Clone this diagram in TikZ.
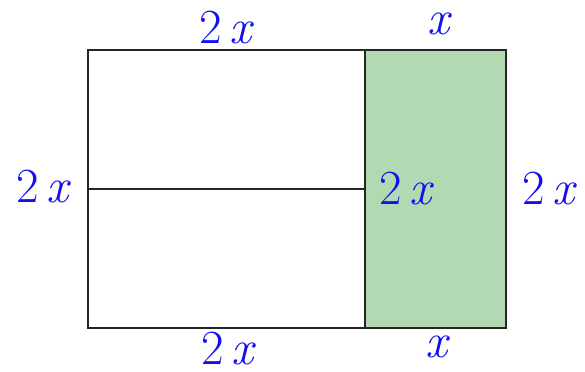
\documentclass[tikz,border=0pt]{standalone}
\usepackage{fontspec}
\definecolor{areagreen}{HTML}{B3D9B3}
\definecolor{penblue}{HTML}{1010F0}
\usetikzlibrary{calc, positioning}
\begin{document}
\begin{tikzpicture}[
  x=0.0265cm, y=-0.0265cm,
  edge/.style={draw=black!85, line width=0.9pt},
  dim/.style={font=\fontsize{37}{37}\selectfont, text=penblue, inner sep=0pt},
]
\useasboundingbox (0,0) rectangle (585,372);
% corners of the big rectangle
\coordinate (tl) at (88,50);
\coordinate (tm) at (365,50);
\coordinate (tr) at (506,50);
\coordinate (bl) at (88,328);
\coordinate (bm) at (365,328);
\coordinate (br) at (506,328);
\coordinate (ml) at (88,189);
\coordinate (mm) at (365,189);

\fill[areagreen] (tm) rectangle (br);
\draw[edge] (tl) rectangle (br);
\draw[edge] (tm) -- (bm);
\draw[edge] (ml) -- (mm);

\node[dim] (top2x) at (227,28) {2\,\textit{x}};
\node[dim] (topx) at (440,24) {\textit{x}};
\node[dim] (left2x) at (44,187) {2\,\textit{x}};
\node[dim] (mid2x) at (407,189) {2\,\textit{x}};
\node[dim] (right2x) at (550,189) {2\,\textit{x}};
\node[dim] (bot2x) at (229,349) {2\,\textit{x}};
\node[dim] (botx) at (438,347) {\textit{x}};
\end{tikzpicture}
\end{document}
